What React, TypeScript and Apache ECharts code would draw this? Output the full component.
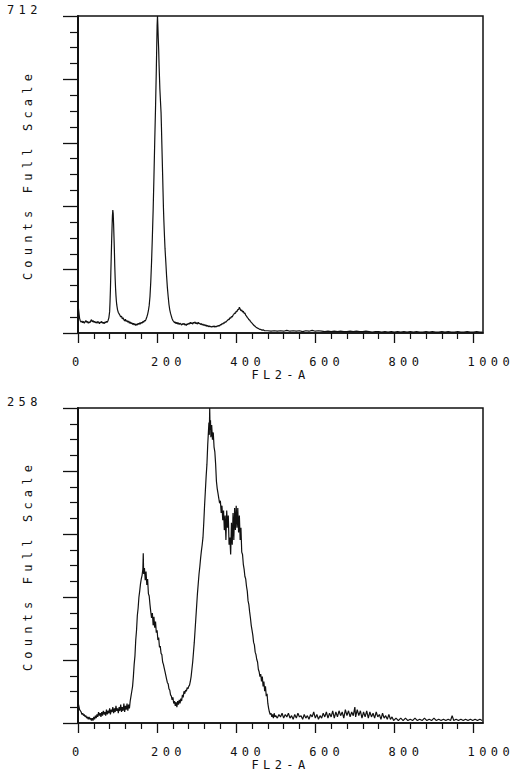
import { useEffect, useRef } from "react";
import * as echarts from "echarts";

// ---- axis definitions ----
const xTickLabels = [0, 200, 400, 600, 800, 1000];
const xMax = 1024;
const xMinorStep = 40;
const yDivisions = 20;
const yMajorEvery = 4;
const topFullScale = 712;
const bottomFullScale = 258;
const yAxisTitle = "Counts Full Scale";
const xAxisTitle = "FL2-A";

// ---- top histogram: [channel, counts] ----
const topHistogram: number[][] = [
  [0, 64], [2, 48], [4, 33], [6, 27], [8, 24], [10, 27], [12, 23], [14, 26], [16, 22], [18, 25],
  [20, 28], [22, 24], [24, 26], [26, 22], [28, 25], [30, 23], [32, 27], [34, 30], [36, 25], [38, 28],
  [40, 24], [42, 26], [44, 23], [46, 25], [48, 22], [50, 26], [52, 24], [54, 21], [56, 25], [58, 23],
  [60, 26], [62, 22], [64, 24], [66, 21], [68, 25], [70, 23], [72, 26], [74, 24], [76, 28], [78, 34],
  [80, 48], [81, 70], [82, 98], [83, 135], [84, 170], [85, 205], [86, 235], [87, 262], [88, 276], [89, 268],
  [90, 245], [91, 215], [92, 185], [93, 150], [94, 122], [95, 100], [96, 84], [97, 72], [98, 63], [100, 52],
  [102, 46], [104, 43], [106, 40], [108, 36], [110, 38], [112, 32], [114, 34], [116, 30], [118, 27], [120, 31],
  [122, 26], [124, 28], [126, 24], [128, 27], [130, 22], [132, 25], [134, 21], [136, 23], [138, 19], [140, 22],
  [142, 18], [144, 21], [146, 17], [148, 20], [150, 18], [152, 22], [154, 19], [156, 23], [158, 20], [160, 24],
  [162, 22], [164, 26], [166, 24], [168, 28], [170, 27], [172, 31], [174, 36], [176, 42],
  [178, 50], [180, 62], [182, 82], [184, 115], [186, 160], [188, 215], [190, 276], [192, 350], [194, 430], [196, 505],
  [198, 590], [199, 640], [200, 690], [201, 712], [202, 688], [203, 660], [204, 636], [205, 602], [206, 575], [207, 548],
  [208, 530], [209, 512], [210, 495], [211, 462], [212, 425], [213, 390], [214, 355], [215, 318], [216, 282], [217, 255],
  [218, 232], [219, 210], [220, 190], [222, 160], [224, 128], [226, 102], [228, 82], [230, 64], [232, 52], [234, 44],
  [236, 38], [238, 32], [240, 28],
  [242, 26], [244, 23], [246, 25], [248, 21], [250, 24], [252, 20], [254, 23], [256, 19], [258, 22], [260, 20],
  [262, 18], [264, 21], [266, 19], [268, 22], [270, 18], [272, 20], [274, 17], [276, 21], [278, 19], [280, 22],
  [282, 20], [284, 24], [286, 21], [288, 23], [290, 20], [292, 24], [294, 22], [296, 25], [298, 21], [300, 23],
  [302, 20], [304, 24], [306, 21], [308, 22], [310, 19], [312, 21], [314, 18], [316, 20], [318, 17], [320, 19],
  [322, 16], [324, 18], [326, 15], [328, 17], [330, 14], [332, 16], [334, 14], [336, 15], [338, 13], [340, 15],
  [342, 14], [344, 16], [346, 13], [348, 15], [350, 14], [352, 16], [354, 15], [356, 17], [358, 16], [360, 19],
  [362, 18], [364, 21], [366, 20], [368, 23], [370, 22], [372, 25], [374, 24], [376, 27], [378, 28], [380, 31],
  [382, 30], [384, 34], [386, 33], [388, 37], [390, 36], [392, 40], [394, 42], [396, 45], [398, 44], [400, 49],
  [402, 48], [404, 53], [406, 52], [408, 58], [410, 54], [412, 50], [414, 52], [416, 47], [418, 49], [420, 44],
  [422, 45], [424, 40], [426, 38], [428, 35], [430, 33], [432, 30], [434, 29], [436, 26], [438, 24], [440, 22],
  [442, 20], [444, 18], [446, 16], [448, 15], [450, 13], [452, 12], [454, 11], [456, 10], [458, 9], [460, 8],
  [462, 8], [464, 7], [466, 6], [468, 7], [470, 6], [472, 5],
  [480, 5], [488, 4], [496, 5], [504, 4], [512, 5], [520, 4], [528, 6], [536, 4], [544, 5], [552, 4],
  [560, 5], [568, 3], [576, 5], [584, 4], [592, 6], [600, 4], [608, 5], [616, 4], [624, 3], [632, 4],
  [640, 3], [648, 4], [656, 3], [664, 4], [672, 3], [680, 3], [688, 4], [696, 3], [704, 4], [712, 3],
  [720, 3], [728, 4], [736, 3], [744, 2], [752, 3], [760, 3], [768, 2], [776, 3], [784, 2], [792, 3],
  [800, 2], [808, 3], [816, 2], [824, 3], [832, 2], [840, 3], [848, 2], [856, 3], [864, 2], [872, 2],
  [880, 3], [888, 2], [896, 3], [904, 2], [912, 2], [920, 3], [928, 2], [936, 3], [944, 2], [952, 2],
  [960, 3], [968, 2], [976, 2], [984, 3], [992, 2], [1000, 2], [1008, 3], [1016, 2], [1023, 2],
];

// ---- bottom histogram: [channel, counts] ----
const bottomHistogram: number[][] = [
  [0, 17], [2, 14], [4, 11], [6, 10], [8, 9], [10, 7], [12, 8], [14, 6], [16, 7], [18, 5],
  [20, 6], [22, 4], [24, 5], [26, 3], [28, 5], [30, 3], [32, 4], [34, 2], [36, 4], [38, 2],
  [40, 5], [42, 3], [44, 6], [46, 4], [48, 7], [50, 5], [52, 9], [54, 6], [56, 8], [58, 5],
  [60, 9], [62, 6], [64, 10], [66, 7], [68, 9], [70, 6], [72, 11], [74, 7], [76, 10], [78, 8],
  [80, 12], [82, 7], [84, 11], [86, 9], [88, 13], [90, 8], [92, 12], [94, 9], [96, 14], [98, 10],
  [100, 12], [102, 8], [104, 13], [106, 10], [108, 15], [110, 9], [112, 13], [114, 10], [116, 16], [118, 9],
  [120, 14], [122, 11], [124, 16], [126, 10], [128, 15], [130, 12], [132, 18], [134, 22], [136, 26], [138, 30],
  [140, 38], [142, 48], [144, 55], [146, 68], [148, 76], [150, 88], [152, 94], [154, 103], [156, 108], [158, 114],
  [160, 118], [162, 121], [164, 126], [165, 139], [166, 122], [168, 127], [170, 117], [172, 124], [174, 113], [176, 118],
  [178, 106], [180, 104], [182, 97], [184, 91], [186, 86], [188, 90], [190, 80], [192, 87], [194, 78], [196, 83],
  [198, 74], [200, 76], [202, 68], [204, 70], [206, 62], [208, 63], [210, 57], [212, 56], [214, 50], [216, 48],
  [218, 45], [220, 42], [222, 39], [224, 36], [226, 33], [228, 32], [230, 28], [232, 27], [234, 23], [236, 22],
  [238, 19], [240, 21], [242, 16], [244, 18], [246, 14], [248, 17], [250, 13], [252, 18], [254, 15], [256, 19],
  [258, 16], [260, 20], [262, 18], [264, 23], [266, 21], [268, 26], [270, 24], [272, 27], [274, 26], [276, 29],
  [278, 28], [280, 30], [282, 31], [284, 34], [286, 38], [288, 44], [290, 50], [292, 58], [294, 66], [296, 76],
  [298, 86], [300, 96], [302, 106], [304, 114], [306, 122], [308, 128], [310, 135], [312, 141], [314, 146], [316, 152],
  [318, 164], [320, 178], [322, 190], [324, 202], [326, 212], [328, 228], [330, 240], [331, 246], [332, 236], [333, 258],
  [334, 240], [335, 248], [336, 234], [338, 244], [340, 232], [342, 238], [344, 226], [346, 222], [348, 212], [350, 198],
  [352, 192], [354, 188], [356, 184], [358, 180], [360, 182], [362, 172], [364, 178], [366, 166], [368, 174], [370, 158],
  [372, 170], [374, 150], [376, 174], [378, 160], [380, 170], [382, 146], [384, 152], [386, 138], [388, 164], [390, 146],
  [392, 172], [394, 150], [396, 176], [398, 158], [400, 178], [402, 160], [404, 176], [406, 156], [408, 170], [410, 150],
  [412, 160], [414, 140], [416, 138], [418, 130], [420, 126], [422, 120], [424, 118], [426, 112], [428, 108], [430, 100],
  [432, 97], [434, 91], [436, 86], [438, 80], [440, 76], [442, 72], [444, 66], [446, 64], [448, 58], [450, 56],
  [452, 52], [454, 50], [456, 44], [458, 42], [460, 38], [462, 40], [464, 34], [466, 38], [468, 30], [470, 34],
  [472, 26], [474, 30], [476, 22], [478, 24], [480, 16], [482, 12], [484, 9], [486, 7],
  [488, 8], [490, 5], [492, 7], [494, 4], [496, 8], [498, 5], [500, 6], [504, 4], [508, 7], [512, 5],
  [516, 8], [520, 4], [524, 7], [528, 5], [532, 8], [536, 4], [540, 6], [544, 3], [548, 7], [552, 4],
  [556, 8], [560, 5], [564, 6], [568, 3], [572, 7], [576, 4], [580, 6], [584, 3], [588, 7], [592, 5],
  [596, 9], [600, 4], [604, 7], [608, 3], [612, 6], [616, 4], [620, 8], [624, 5], [628, 9], [632, 4],
  [636, 8], [640, 5], [644, 10], [648, 4], [652, 9], [656, 5], [660, 10], [664, 6], [668, 9], [672, 4],
  [676, 11], [680, 6], [684, 10], [688, 5], [692, 9], [696, 6], [700, 13], [702, 5], [706, 11], [710, 6],
  [714, 10], [718, 4], [722, 9], [726, 5], [730, 10], [734, 4], [738, 9], [742, 5], [746, 8], [750, 4],
  [754, 9], [758, 5], [762, 7], [766, 3], [770, 8], [774, 4], [778, 6], [782, 3], [786, 7], [790, 3],
  [794, 5], [798, 2], [804, 4], [810, 2], [816, 4], [822, 2], [828, 4], [834, 2], [840, 3], [846, 2],
  [852, 4], [858, 2], [864, 3], [870, 2], [876, 4], [882, 2], [888, 3], [894, 2], [900, 4], [906, 2],
  [912, 3], [918, 2], [924, 3], [930, 2], [936, 3], [942, 2], [946, 6], [950, 2], [956, 3], [962, 2],
  [968, 3], [974, 2], [980, 3], [986, 2], [992, 3], [998, 2], [1004, 3], [1010, 2], [1016, 3], [1022, 2],
];

const FONT = "'DejaVu Sans Mono', 'Liberation Mono', monospace";
const INK = "#111";

function buildOption() {
  const panels = [
    { top: 16, height: 317, fullScale: topFullScale, data: topHistogram },
    { top: 408, height: 315, fullScale: bottomFullScale, data: bottomHistogram },
  ];
  const xMinor: number[] = [];
  for (let v = xMinorStep; v < xTickLabels[xTickLabels.length - 1]; v += xMinorStep) {
    if (v % 200 !== 0) xMinor.push(v);
  }
  const grid: any[] = [];
  const xAxis: any[] = [];
  const yAxis: any[] = [];
  const series: any[] = [];
  panels.forEach((p, i) => {
    const yMinor: number[] = [];
    const yMajor: number[] = [];
    for (let k = 0; k <= yDivisions; k++) {
      const v = (p.fullScale * k) / yDivisions;
      if (k % yMajorEvery === 0) yMajor.push(v);
      else yMinor.push(v);
    }
    grid.push({
      left: 78,
      top: p.top,
      width: 405,
      height: p.height,
      containLabel: false,
      outerBoundsMode: "none",
      show: true,
      borderColor: INK,
      borderWidth: 1.5,
      backgroundColor: "transparent",
    });
    xAxis.push({
      type: "value",
      gridIndex: i,
      min: 0,
      max: xMax,
      position: "bottom",
      axisLine: { show: true, onZero: false, lineStyle: { color: INK, width: 1.6 } },
      axisTick: { show: true, customValues: xTickLabels, length: 10, lineStyle: { color: INK, width: 1.3 } },
      axisLabel: {
        customValues: xTickLabels,
        margin: 23,
        align: "left",
        padding: [0, 0, 0, -6],
        fontFamily: FONT,
        fontSize: 12,
        color: INK,
        formatter: (v: number) => String(v),
      },
      splitLine: { show: false },
      name: xAxisTitle,
      nameLocation: "middle",
      nameGap: 36,
      nameMoveOverlap: false,
      nameTextStyle: { fontFamily: FONT, fontSize: 12, color: INK },
    });
    xAxis.push({
      type: "value",
      gridIndex: i,
      min: 0,
      max: xMax,
      position: "bottom",
      axisLine: { show: false },
      axisTick: { show: true, customValues: xMinor, length: 6, lineStyle: { color: INK, width: 1.2 } },
      axisLabel: { show: false },
      splitLine: { show: false },
    });
    yAxis.push({
      type: "value",
      gridIndex: i,
      min: 0,
      max: p.fullScale,
      position: "left",
      axisLine: { show: true, onZero: false, lineStyle: { color: INK, width: 2 } },
      axisTick: { show: true, customValues: yMajor, length: 15, lineStyle: { color: INK, width: 1.3 } },
      axisLabel: {
        customValues: [p.fullScale],
        align: "left",
        verticalAlign: "bottom",
        margin: 71,
        fontFamily: FONT,
        fontSize: 12,
        color: INK,
        formatter: (v: number) => String(v),
      },
      splitLine: { show: false },
      name: yAxisTitle,
      nameLocation: "middle",
      nameRotate: 90,
      nameGap: 44,
      nameMoveOverlap: false,
      nameTextStyle: { fontFamily: FONT, fontSize: 12, color: INK },
    });
    yAxis.push({
      type: "value",
      gridIndex: i,
      min: 0,
      max: p.fullScale,
      position: "left",
      offset: 0,
      axisLine: { show: false },
      axisTick: { show: true, customValues: yMinor, length: 8, lineStyle: { color: INK, width: 1.2 } },
      axisLabel: { show: false },
      splitLine: { show: false },
    });
    series.push({
      type: "line",
      xAxisIndex: 2 * i,
      yAxisIndex: 2 * i,
      data: p.data,
      symbol: "none",
      showSymbol: false,
      silent: true,
      lineStyle: { color: INK, width: 1.2 },
    });
  });
  return {
    animation: false,
    backgroundColor: "#fff",
    grid,
    xAxis,
    yAxis,
    series,
  };
}

function spaceLetters(el: HTMLElement) {
  el.querySelectorAll("text").forEach((t) => {
    const s = t.textContent || "";
    (t as SVGTextElement).style.letterSpacing = s === yAxisTitle ? "5.2px" : "4.4px";
  });
}

export default function App() {
  const ref = useRef<HTMLDivElement>(null);
  useEffect(() => {
    const el = ref.current!;
    const chart = echarts.init(el, undefined, { renderer: "svg" });
    chart.setOption(buildOption() as any);
    spaceLetters(el);
    const onFinished = () => spaceLetters(el);
    chart.on("finished", onFinished);
    const raf = requestAnimationFrame(() => spaceLetters(el));
    return () => {
      cancelAnimationFrame(raf);
      chart.off("finished", onFinished);
      chart.dispose();
    };
  }, []);
  return (
    <div
      ref={ref}
      style={{ position: "fixed", left: 0, top: 0, width: 520, height: 772, background: "#fff" }}
    />
  );
}
